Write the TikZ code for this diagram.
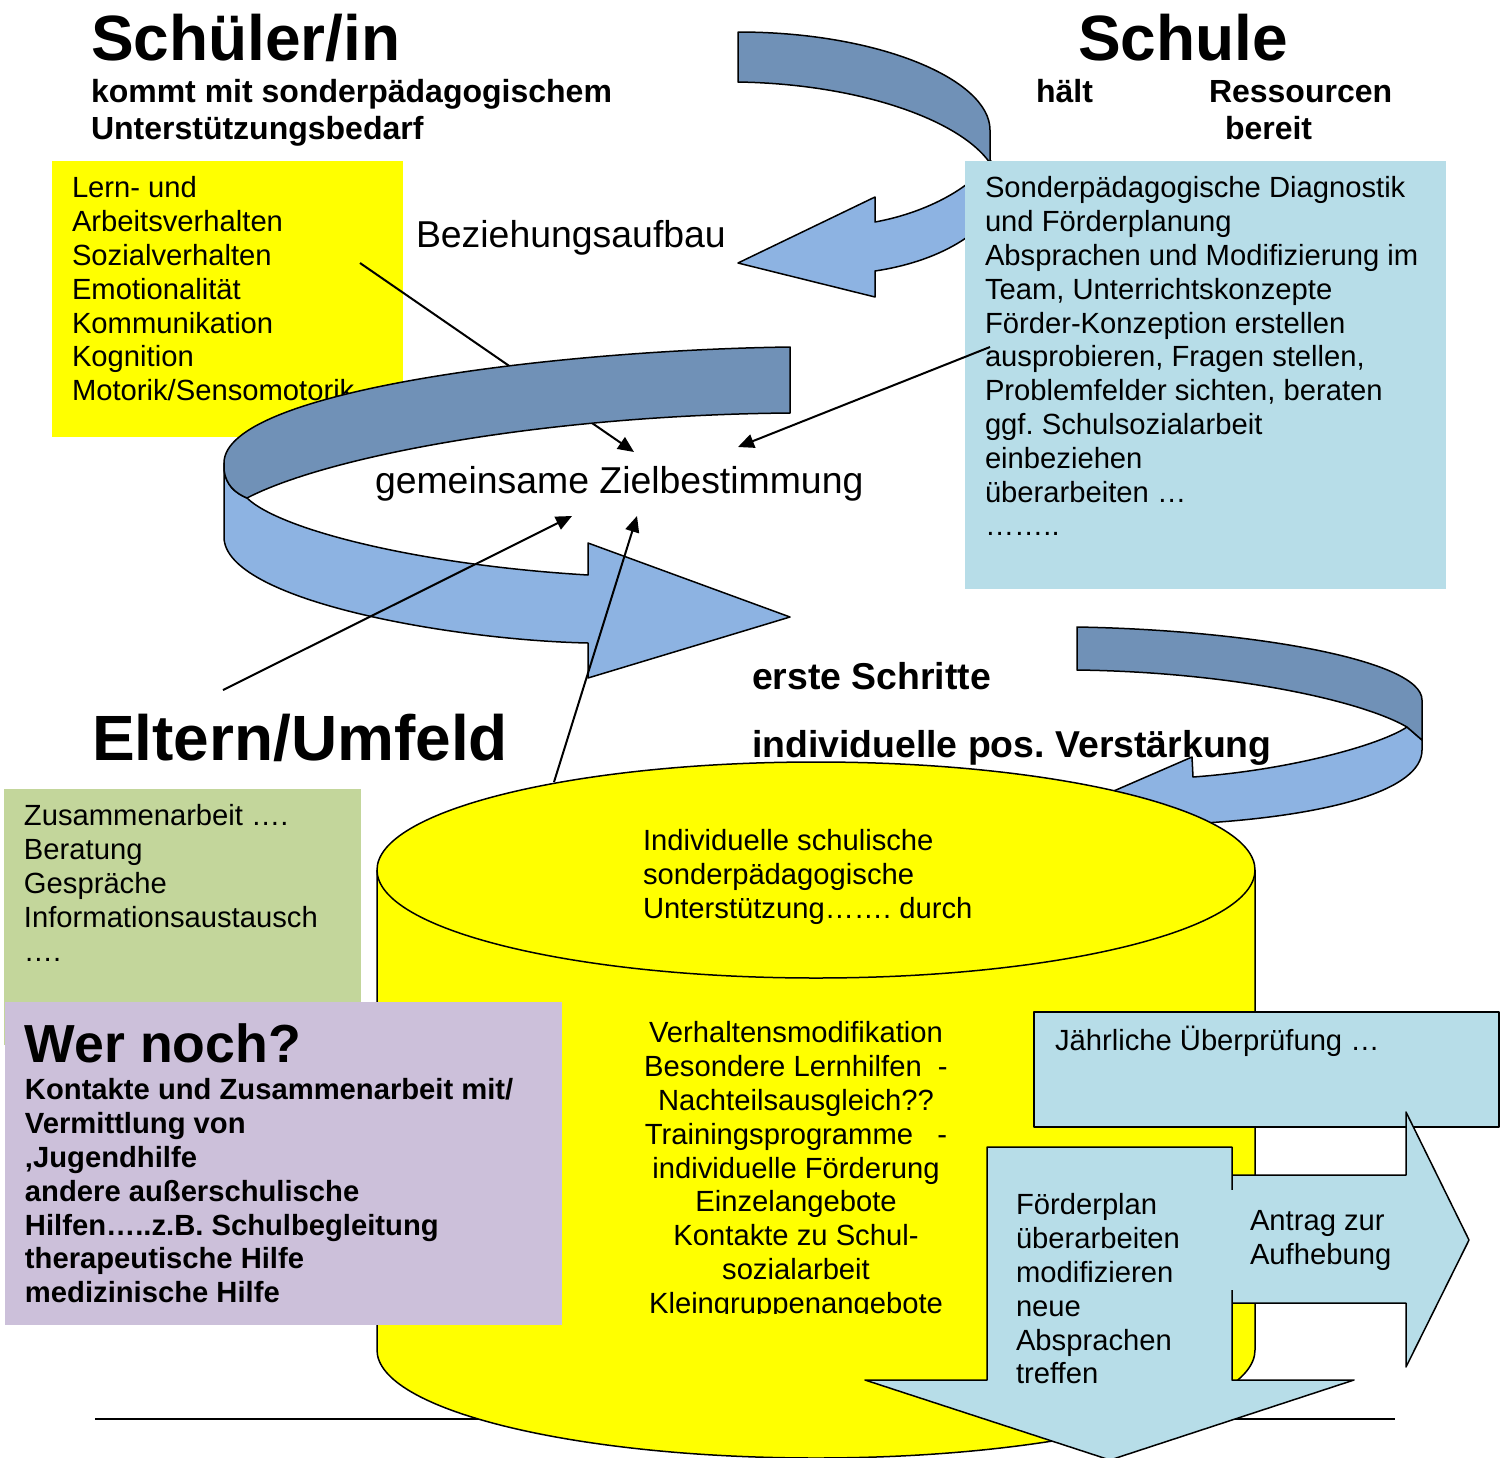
\documentclass[tikz,border=0pt]{standalone}
\usepackage{fontspec}
\setmainfont{Liberation Sans}
\usetikzlibrary{arrows.meta}
\newcommand{\fbody}{\fontsize{14.6}{16.9}\selectfont}
\newcommand{\fbodyb}{\fontsize{14.6}{16.9}\selectfont\bfseries}
\newcommand{\ftitle}{\fontsize{32}{38}\selectfont\bfseries}
\newcommand{\fsubt}{\fontsize{16}{18.5}\selectfont\bfseries}
\newcommand{\fmid}{\fontsize{18.7}{21}\selectfont}
\newcommand{\fmidb}{\fontsize{18.7}{21}\selectfont\bfseries}
\newcommand{\fwer}{\fontsize{26.8}{30}\selectfont\bfseries}
\definecolor{bandDark}{RGB}{112,145,183}
\definecolor{bandLight}{RGB}{141,179,226}
\definecolor{boxBlue}{RGB}{183,221,232}
\definecolor{boxGreen}{RGB}{195,214,155}
\definecolor{boxPurple}{RGB}{204,192,218}
\definecolor{boxYellow}{RGB}{255,255,0}
\frenchspacing
\begin{document}
\begin{tikzpicture}[x=0.5pt,y=-0.5pt,
  outl/.style={draw=black, line width=0.75pt, line join=round},
  conn/.style={draw=black, line width=1pt, -{Triangle[length=8pt,width=7pt]}},
  txtblock/.style={inner sep=0pt, outer sep=0pt, anchor=north west, align=left, font=\fbody},
  txtblockb/.style={txtblock, font=\fbodyb},
  oneline/.style={inner sep=0pt, outer sep=0pt, anchor=base west}]
\useasboundingbox (0,0) rectangle (1505,1457);
\clip (0,0) rectangle (1505,1457);
\fill[white] (0,0) rectangle (1505,1457);

% footer rule
\draw[line width=1pt] (95,1419) -- (1395,1419);

% yellow box (Schueler)
\fill[boxYellow] (52,161) rectangle (403,437);
\node[txtblock] (lern) at (72,174.3) {\strut Lern- und\\Arbeitsverhalten\\Sozialverhalten\\Emotionalität\\Kommunikation\\Kognition\\Motorik/Sensomotorik};
\coordinate (sozStart) at (360,263);
\coordinate (zielA) at (634,452);
\draw[conn] (sozStart) -- (zielA);

% top right curved arrow
\path[outl, fill=bandLight] (990,160) .. controls (975,185) and (930,212) .. (875,222) -- (875,197) -- (738,263) -- (875,297) -- (875,271) .. controls (935,262) and (990,235) .. (1010,185) -- cycle;
\path[outl, fill=bandDark] (738,32) .. controls (880,32) and (990,80) .. (990,130) -- (990,163) .. controls (960,120) and (860,84) .. (738,82) -- cycle;

% Schule box
\fill[boxBlue] (965,161) rectangle (1446,589);
\node[txtblock] (schulbox) at (985,174.3) {\strut Sonderpädagogische Diagnostik\\und Förderplanung\\Absprachen und Modifizierung im\\Team, Unterrichtskonzepte\\Förder-Konzeption erstellen\\ausprobieren, Fragen stellen,\\Problemfelder sichten, beraten\\ggf. Schulsozialarbeit\\einbeziehen\\überarbeiten …\\……..};

% middle big curved arrow
\path[outl, fill=bandLight] (224,463) -- (224,537) .. controls (224,600) and (450,640) .. (588,643) -- (588,678) -- (790,617) -- (588,543) -- (588,575) .. controls (420,565) and (280,530) .. (247,498) .. controls (235,493) and (226,485) .. (224,470) -- cycle;
\path[outl, fill=bandDark] (790,347) .. controls (560,350) and (224,390) .. (224,463) -- (224,470) .. controls (226,485) and (235,493) .. (247,498) .. controls (330,455) and (550,415) .. (790,413) -- cycle;

% connectors to the goal
\coordinate (schulStart) at (990,347);
\coordinate (zielB) at (738,447);
\draw[conn] (schulStart) -- (zielB);
\coordinate (elternStart) at (223,690);
\coordinate (zielC) at (572,516);
\draw[conn] (elternStart) -- (zielC);
\coordinate (cylStart) at (554,782);
\coordinate (zielD) at (637,516);
\draw[conn] (cylStart) -- (zielD);

% bottom right curved arrow
\path[outl, fill=bandLight] (1422,740) -- (1422,750) .. controls (1422,790) and (1330,815) .. (1205,823) -- (1200,850) -- (1040,823) -- (1192,757) -- (1193,777) .. controls (1290,770) and (1380,745) .. (1407,727) -- cycle;
\path[outl, fill=bandDark] (1077,627) .. controls (1250,630) and (1422,660) .. (1422,700) -- (1422,740) -- (1407,727) .. controls (1360,700) and (1230,672) .. (1077,670) -- cycle;

% cylinder
\fill[boxYellow] (377,870) -- (377,1350) .. controls (377,1409.6) and (573.5,1458) .. (816,1458) .. controls (1058.5,1458) and (1255,1409.6) .. (1255,1350) -- (1255,870) -- cycle;
\draw[line width=0.75pt] (377,870) -- (377,1350) .. controls (377,1409.6) and (573.5,1458) .. (816,1458) .. controls (1058.5,1458) and (1255,1409.6) .. (1255,1350) -- (1255,870);
\path[outl, fill=boxYellow] (816,870) ellipse [x radius=439, y radius=108];
\node[txtblock] (cyltop) at (643,827.3) {\strut Individuelle schulische\\sonderpädagogische\\Unterstützung……. durch};
\begin{scope}
\clip (600,1000) rectangle (1000,1313);
\node[txtblock, anchor=north, align=center] (cylbody) at (796,1019.3) {\strut Verhaltensmodifikation\\Besondere Lernhilfen\ \ -\\Nachteilsausgleich??\\Trainingsprogramme\ \ \ -\\individuelle Förderung\\Einzelangebote\\Kontakte zu Schul-\\sozialarbeit\\Kleingruppenangebote};
\end{scope}

% Eltern boxes
\fill[boxGreen] (4,789) rectangle (361,1045);
\node[txtblock] (eltbox) at (24,802.3) {\strut Zusammenarbeit ….\\Beratung\\Gespräche\\Informationsaustausch\\….};
\fill[boxPurple] (5,1002) rectangle (562,1325);
\node[oneline, font=\fwer] (wer) at (25,1062) {Wer noch?};
\node[txtblockb] (werbox) at (25,1076.3) {\strut Kontakte und Zusammenarbeit mit/\\Vermittlung von\\‚Jugendhilfe\\andere außerschulische\\Hilfen…..z.B. Schulbegleitung\\therapeutische Hilfe\\medizinische Hilfe};

% yearly review box
\path[outl, fill=boxBlue] (1034,1012) rectangle (1499,1127);
\node[txtblock] (jaehrl) at (1055,1026.3) {\strut Jährliche Überprüfung …};

% right arrow
\path[outl, fill=boxBlue] (1232,1175) -- (1406,1175) -- (1406,1112) -- (1469,1240) -- (1406,1367) -- (1406,1303) -- (1232,1303) -- cycle;
% down arrow
\path[outl, fill=boxBlue] (987,1147) -- (1232,1147) -- (1232,1380) -- (1354,1380) -- (1110,1460) -- (865,1380) -- (987,1380) -- cycle;
\fill[boxBlue] (1226,1190) rectangle (1246,1290);
\node[txtblock] (antrag) at (1250,1207.3) {\strut Antrag zur\\Aufhebung};
\node[txtblock] (foerder) at (1016,1191.3) {\strut Förderplan\\überarbeiten\\modifizieren\\neue\\Absprachen\\treffen};

% titles and labels
\node[oneline, font=\ftitle] (schueler) at (91,60) {Schüler/in};
\node[txtblock, font=\fsubt] (kommt) at (91,76.1) {\strut kommt mit sonderpädagogischem\\Unterstützungsbedarf};
\node[oneline, font=\ftitle] (schule) at (1078,60) {Schule};
\node[oneline, font=\fsubt] (haelt) at (1036,102) {hält};
\node[oneline, font=\fsubt] (ress) at (1209,102) {Ressourcen};
\node[oneline, font=\fsubt] (bereit) at (1225,139) {bereit};
\node[oneline, font=\fmid] (bez) at (416,247) {Beziehungsaufbau};
\node[oneline, font=\fmid] (ziel) at (375,493) {gemeinsame Zielbestimmung};
\node[oneline, font=\fmidb] (erste) at (752,689) {erste Schritte};
\node[oneline, font=\fmidb] (indiv) at (752,757) {individuelle pos. Verstärkung};
\node[oneline, font=\ftitle] (eltern) at (92,760) {Eltern/Umfeld};
\end{tikzpicture}
\end{document}
